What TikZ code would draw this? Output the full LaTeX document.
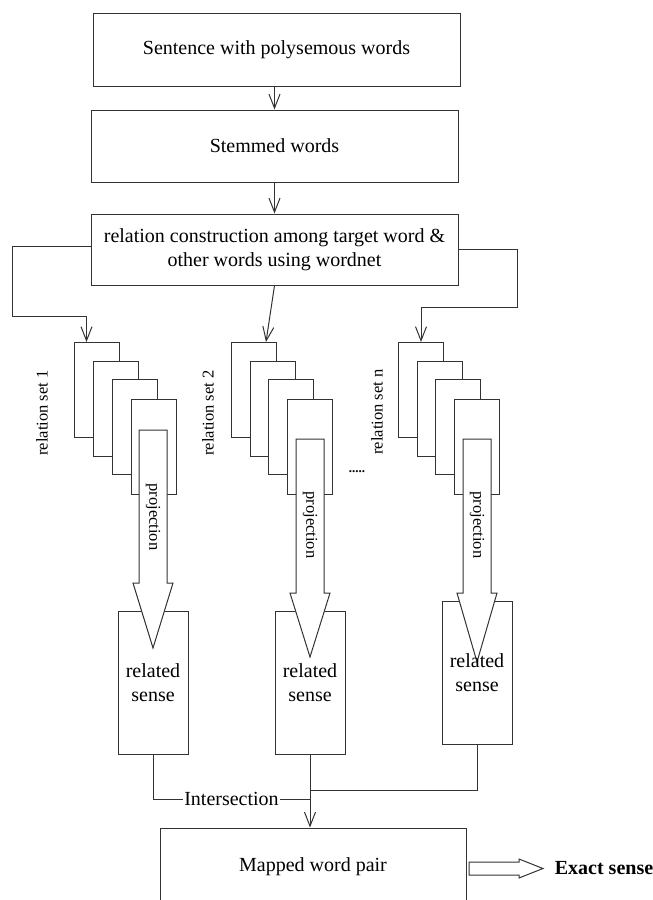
\documentclass[tikz,border=0pt]{standalone}
\usepackage{fontspec}
\setmainfont{Liberation Serif}
\usetikzlibrary{arrows.meta}

\begin{document}
\begin{tikzpicture}[x=1pt, y=-1pt, line width=1pt]
	\tikzset{BoxStyle/.style = {
			shape=rectangle,
			draw=black!80,
			fill=white,
			inner sep=0pt,
			align=center,
			font=\fontsize{20}{23.5}\selectfont
	}}
	\tikzset{SetStyle/.style = {BoxStyle, minimum width=45, minimum height=95, anchor=north west}}
	\tikzset{SenseStyle/.style = {BoxStyle, minimum width=70, minimum height=143}}
	\tikzset{TextStyle/.style = {inner sep=0pt, align=center, font=\fontsize{20}{23.5}\selectfont}}
	\tikzset{SideStyle/.style = {inner sep=0pt, font=\fontsize{16.5}{20}\selectfont}}
	\tikzset{ArrowStyle/.style = {draw=black!80, -{Straight Barb[length=14pt,width=11pt]}}}
	\tikzset{FatArrowStyle/.style = {draw=black!80, fill=white}}
	\useasboundingbox (0,0) rectangle (653,900);
	\clip (0,0) rectangle (653,900);

	\node[BoxStyle, minimum width=367, minimum height=73] (1) at (276.5,49.5) {Sentence with polysemous words};
	\node[BoxStyle, minimum width=367, minimum height=72] (2) at (274.5,146) {Stemmed words};
	\node[BoxStyle, minimum width=367, minimum height=71] (3) at (274.5,249.5) {relation construction among target word \&\\other words using wordnet};

	\node[SetStyle] (11) at (74,342) {};
	\node[SetStyle] (12) at (93,361) {};
	\node[SetStyle] (13) at (112,379) {};
	\node[SetStyle] (14) at (131,399) {};
	\node[SetStyle] (21) at (231,342) {};
	\node[SetStyle] (22) at (250,361) {};
	\node[SetStyle] (23) at (268,379) {};
	\node[SetStyle] (24) at (287,399) {};
	\node[SetStyle] (31) at (398,342) {};
	\node[SetStyle] (32) at (417,361) {};
	\node[SetStyle] (33) at (435,379) {};
	\node[SetStyle] (34) at (454,399) {};

	\node[SideStyle, rotate=90] (l1) at (42,413) {relation set 1};
	\node[SideStyle, rotate=90] (l2) at (208,413) {relation set 2};
	\node[SideStyle, rotate=90] (l3) at (377,412) {relation set n};
	\node[inner sep=0pt, font=\fontsize{13}{15}\selectfont\bfseries] (dots) at (357,472) {.....};

	\node[SenseStyle] (41) at (153,682.5) {};
	\node[SenseStyle] (42) at (310,682.5) {};
	\node[SenseStyle] (43) at (477,672.5) {};

	% projection arrows
	\draw[FatArrowStyle] (139,430) -- (167,430) -- (167,583) -- (173,583) -- (153,648) -- (133,583) -- (139,583) -- cycle;
	\draw[FatArrowStyle] (296,439) -- (324,439) -- (324,593) -- (330,593) -- (310,657) -- (290,593) -- (296,593) -- cycle;
	\draw[FatArrowStyle] (463,439) -- (491,439) -- (491,593) -- (497,593) -- (477,662) -- (457,593) -- (463,593) -- cycle;
	\node[SideStyle, rotate=-90] (p1) at (153,517) {projection};
	\node[SideStyle, rotate=-90] (p2) at (310,525) {projection};
	\node[SideStyle, rotate=-90] (p3) at (477,525) {projection};

	\node[TextStyle] (t1) at (41) {related\\sense};
	\node[TextStyle] (t2) at (42) {related\\sense};
	\node[TextStyle] (t3) at (43) {related\\sense};

	\node[BoxStyle, minimum width=306, minimum height=78] (5) at (313,867) {Mapped word pair};
	\node[TextStyle, font=\fontsize{20}{23.5}\selectfont\bfseries] (6) at (604,868) {Exact sense};
	\draw[FatArrowStyle] (469,862) -- (519,862) -- (519,859) -- (543,868.5) -- (519,878) -- (519,875) -- (469,875) -- cycle;

	\coordinate (c1) at (310,799);
	\coordinate (c2) at (310,790);

	\draw[ArrowStyle] (1.south -| 2.north) -- (2.north);
	\draw[ArrowStyle] (2) -- (3);
	\draw[ArrowStyle] ([yshift=3.5pt]3.west) -| (12,316) -| ([xshift=-10.5pt]11.north);
	\draw[ArrowStyle] (3.south) -- ([xshift=12pt]21.north);
	\draw[ArrowStyle] (3.east) -| (517,307) -| (31.north);
	\draw[draw=black!80] (41.south) |- node[TextStyle, pos=0.75, fill=white, inner xsep=1pt] (x) {Intersection} (c1);
	\draw[ArrowStyle] (42.south) -- (42.south |- 5.north);
	\draw[draw=black!80] (43.south) |- (c2);
\end{tikzpicture}
\end{document}
